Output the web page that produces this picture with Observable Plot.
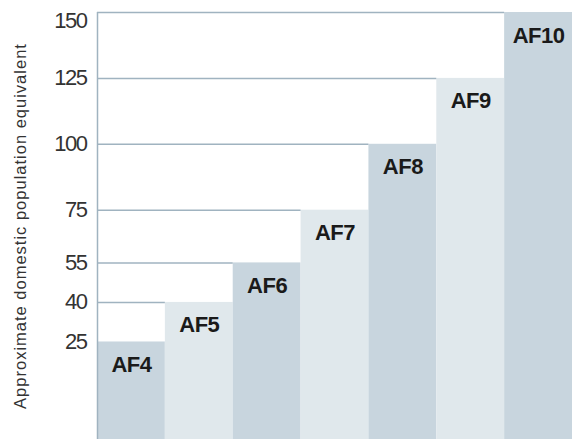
<!DOCTYPE html>
<html>
<head>
<meta charset="utf-8">
<script src="https://cdn.jsdelivr.net/npm/d3@7"></script>
<script src="https://cdn.jsdelivr.net/npm/@observablehq/plot@0.6"></script>
<style>
  html, body { margin: 0; padding: 0; background: #ffffff; }
  #chart svg { display: block; }
  #chart g[aria-label="y-axis tick label"] text { font-size: 22px !important; font-weight: 300; letter-spacing: -1.5px; fill: #333333; }
  #chart g[aria-label="y-axis label"] text { font-size: 16.5px !important; font-weight: 300; letter-spacing: 1px; fill: #333333; }
  #chart g[aria-label="text"] text { font-size: 22px !important; letter-spacing: -0.5px; }
</style>
</head>
<body>
<div id="chart"></div>
<script>
const categories = ["AF4", "AF5", "AF6", "AF7", "AF8", "AF9", "AF10"];
const values = [25, 40, 55, 75, 100, 125, 150];
const tickValues = [25, 40, 55, 75, 100, 125, 150];
const yLabel = "Approximate domestic population equivalent";

const yMin = -12;
const data = categories.map((c, i) => ({
  name: c, value: values[i], i: i, i1: i + 1, mid: i + 0.5,
  shade: i % 2 === 0 ? "dark" : "light"
}));
const yMax = d3.max(values);
const innerTicks = tickValues.filter(v => v !== yMax);

const ruleColor = "#a0b3c0";

const chart = Plot.plot({
  width: 572,
  height: 439,
  marginLeft: 97,
  marginRight: 0,
  marginTop: 12,
  marginBottom: 0,
  style: { fontFamily: "'Liberation Sans', Arial, sans-serif", background: "transparent" },
  x: { domain: [0, categories.length], axis: null },
  y: { domain: [yMin, yMax], ticks: tickValues, label: yLabel },
  color: { domain: ["dark", "light"], range: ["#c8d5de", "#e0e8ec"] },
  marks: [
    Plot.rectY(data, { x1: "i", x2: "i1", y1: yMin, y2: "value", fill: "shade" }),
    Plot.ruleY(data, { y: "value", x1: 0, x2: "i", stroke: ruleColor, strokeWidth: 1.5 }),
    Plot.ruleX([0], { y1: yMin, y2: yMax, stroke: ruleColor, strokeWidth: 1.5 }),
    Plot.axisY({
      ticks: innerTicks, tickSize: 0, tickPadding: 11, fontSize: 22,
      fill: "#333333", label: yLabel, labelAnchor: "center", labelArrow: "none",
      labelOffset: 83
    }),
    Plot.axisY({
      ticks: [yMax], tickSize: 0, tickPadding: 11, fontSize: 22, dy: 8,
      fill: "#333333", label: null
    }),
    Plot.text(data, {
      x: "mid", y: "value", text: "name", dy: 23,
      fontSize: 22, fontWeight: "bold", fill: "#1a1a1a"
    })
  ]
});
document.getElementById("chart").append(chart);
</script>
</body>
</html>
